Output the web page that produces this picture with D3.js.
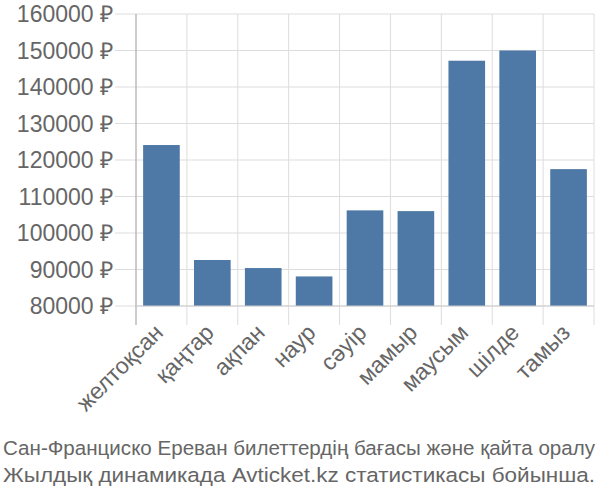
<!DOCTYPE html>
<html><head><meta charset="utf-8">
<script src="https://cdn.jsdelivr.net/npm/d3@7"></script>
<style>body{margin:0;background:#fff}svg{display:block}text{font-family:"Liberation Sans",Arial,sans-serif;fill:#666}</style>
</head><body>
<script>
const categories = ["желтоқсан","қаңтар","ақпан","наур","сәуір","мамыр","маусым","шілде","тамыз"];
const prices = [124100, 92600, 90400, 88100, 106200, 106000, 147200, 150000, 117500];
const yTicks = [80000, 90000, 100000, 110000, 120000, 130000, 140000, 150000, 160000];
const captionLines = ["Сан-Франциско Ереван билеттердің бағасы және қайта оралу","Жылдық динамикада Avticket.kz статистикасы бойынша."];

(function(){
const W = 600, H = 500;
const pLeft = 136, pRight = 594, pTop = 14, pBottom = 306;
const svg = d3.select("body").append("svg").attr("width", W).attr("height", H);

const x = d3.scaleBand().domain(categories).range([pLeft, pRight]).paddingInner(0.28).paddingOuter(0.14);
const xg = d3.scaleBand().domain(categories).range([pLeft, pRight]).padding(0);
const y = d3.scaleLinear().domain([80000, 160000]).range([pBottom, pTop]);

// horizontal grid
svg.append("g").selectAll("line").data(yTicks).join("line")
  .attr("x1", pLeft - 21).attr("x2", pRight)
  .attr("y1", d => y(d)).attr("y2", d => y(d))
  .attr("stroke", "#ddd").attr("stroke-width", 1);
// vertical grid
const vx = categories.slice(1).map(c => xg(c)).concat([pRight]);
svg.append("g").selectAll("line").data(vx).join("line")
  .attr("x1", d => d).attr("x2", d => d)
  .attr("y1", pTop).attr("y2", pBottom + 19)
  .attr("stroke", "#ddd").attr("stroke-width", 1);

// bars
svg.append("g").selectAll("rect").data(prices).join("rect")
  .attr("x", (d,i) => x(categories[i]))
  .attr("width", x.bandwidth())
  .attr("y", d => y(d))
  .attr("height", d => pBottom - y(d))
  .attr("fill", "#4e79a7");

// axes lines
svg.append("line").attr("x1", pLeft).attr("x2", pLeft).attr("y1", pTop).attr("y2", pBottom + 19)
  .attr("stroke", "#aaa").attr("stroke-width", 1.2);
svg.append("line").attr("x1", pLeft).attr("x2", pRight).attr("y1", pBottom).attr("y2", pBottom)
  .attr("stroke", "#ccc").attr("stroke-width", 1.2);

// y labels
svg.append("g").selectAll("text").data(yTicks).join("text")
  .attr("x", 113).attr("y", d => y(d)).attr("dy", "0.35em")
  .attr("text-anchor", "end").attr("font-size", 23)
  .text(d => d + " ₽");

// x labels
svg.append("g").selectAll("text").data(categories).join("text")
  .attr("transform", d => `translate(${xg(d) + xg.bandwidth()/2 + 3},${pBottom + 28}) rotate(-45)`)
  .attr("text-anchor", "end").attr("font-size", 23)
  .text(d => d);

// caption
svg.append("g").selectAll("text").data(captionLines).join("text")
  .attr("x", 3).attr("y", (d,i) => 455 + i*27)
  .attr("font-size", 20.5)
  .attr("textLength", 592).attr("lengthAdjust", "spacingAndGlyphs")
  .text(d => d);
})();
</script>
</body></html>
